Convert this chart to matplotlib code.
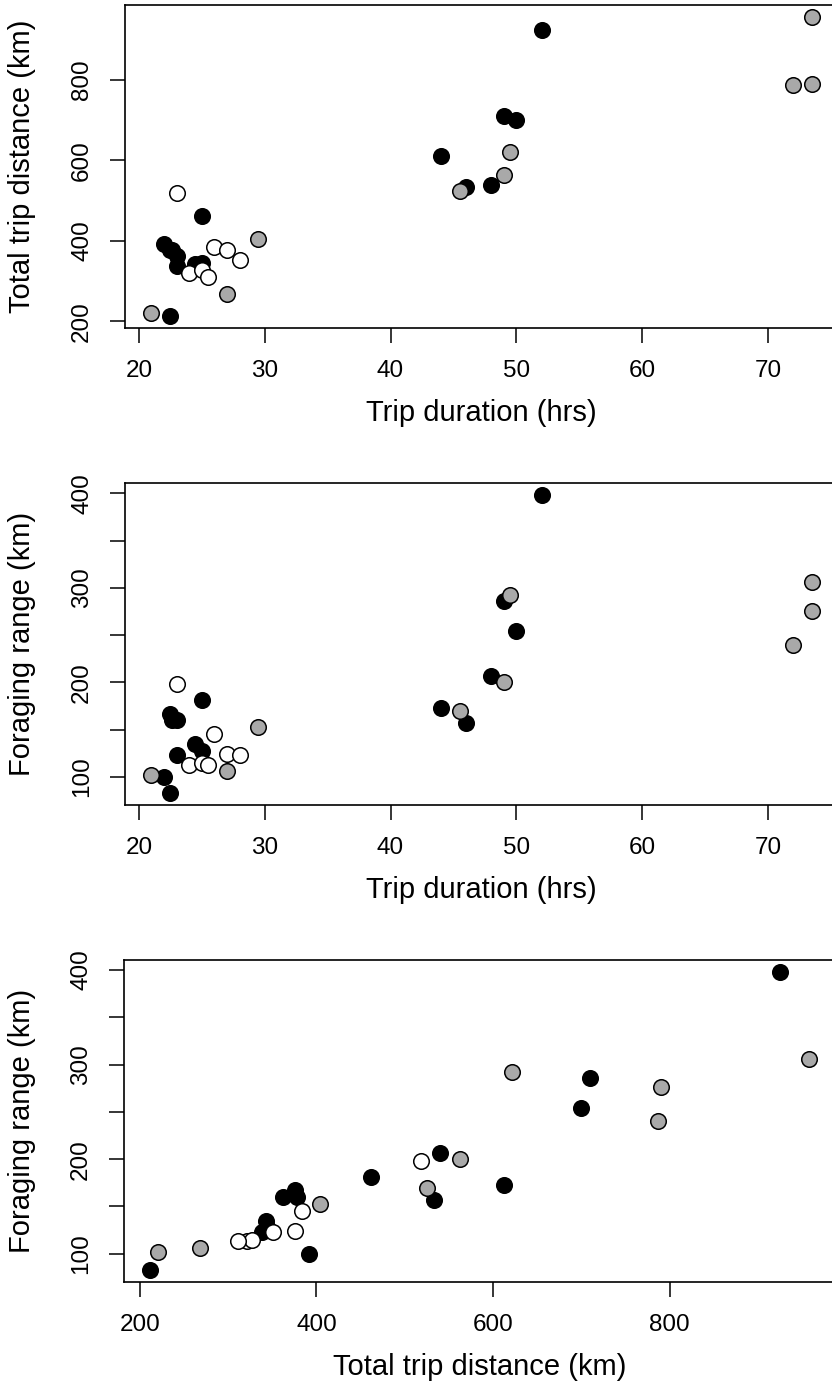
"""
Trip duration / distance / foraging range scatter panels
"""

import matplotlib
matplotlib.use('Agg')
import matplotlib.pyplot as plt
import numpy as np

plt.rcParams['font.family'] = ['Liberation Sans', 'DejaVu Sans']

# trips grouped by marker colour: duration (hrs), total distance (km), foraging range (km)
black_duration = [52, 49, 50, 44, 46, 48, 25, 22.5, 22, 22.5, 23, 22.6, 23, 24.5, 25]
black_distance = [925, 710, 700, 612, 533, 540, 462, 212, 392, 376, 362, 378, 338, 343, 344]
black_range = [398, 286, 254, 173, 157, 207, 181, 83, 100, 167, 160, 160, 123, 135, 128]

white_duration = [23, 26, 27, 28, 24, 25, 25.5]
white_distance = [519, 384, 376, 351, 321, 327, 311]
white_range = [198, 145, 124, 123, 113, 115, 113]

grey_duration = [73.5, 73.5, 72, 49.5, 49, 45.5, 29.5, 27, 21]
grey_distance = [958, 790, 787, 622, 563, 525, 404, 268, 221]
grey_range = [306, 276, 240, 292, 200, 170, 153, 106, 102]

groups = [
    (black_duration, black_distance, black_range, 'black'),
    (white_duration, white_distance, white_range, 'white'),
    (grey_duration, grey_distance, grey_range, '#a9a9a9'),
]

W, H = 832, 1384


def r_limits(values):
    lo, hi = min(values), max(values)
    pad = 0.04 * (hi - lo)
    return lo - pad, hi + pad


all_duration = black_duration + white_duration + grey_duration
all_distance = black_distance + white_distance + grey_distance
all_range = black_range + white_range + grey_range

fig = plt.figure(figsize=(W / 100, H / 100), dpi=100)

# axes boxes in pixels: left, top, right, bottom
boxes = [(125, 4.7, 838.5, 328.3), (125, 483.3, 838.5, 805), (124.1, 960, 835.4, 1281.7)]
panels = [
    (0, 1, 'Trip duration (hrs)', 'Total trip distance (km)', [20, 30, 40, 50, 60, 70], [200, 400, 600, 800], None),
    (0, 2, 'Trip duration (hrs)', 'Foraging range (km)', [20, 30, 40, 50, 60, 70], [100, 150, 200, 250, 300, 350, 400], [100, 200, 300, 400]),
    (1, 2, 'Total trip distance (km)', 'Foraging range (km)', [200, 400, 600, 800], [100, 150, 200, 250, 300, 350, 400], [100, 200, 300, 400]),
]
columns = [all_duration, all_distance, all_range]

for (l, t, r, b), (xi, yi, xlab, ylab, xt, yt, ylabels) in zip(boxes, panels):
    ax = fig.add_axes([l / W, 1 - b / H, (r - l) / W, (b - t) / H])
    for g in groups:
        ax.scatter(g[xi], g[yi], s=125, c=g[3], edgecolors='black', linewidths=1.1, zorder=3, clip_on=False)
    ax.set_xlim(*r_limits(columns[xi]))
    ax.set_ylim(*r_limits(columns[yi]))
    ax.set_xticks(xt)
    ax.set_yticks(yt)
    if ylabels is not None:
        ax.set_yticklabels([str(v) if v in ylabels else '' for v in yt])
    ax.tick_params(direction='out', length=11, width=1.1, labelsize=17.5, pad=12)
    for lab in ax.get_yticklabels():
        lab.set_rotation(90)
        lab.set_va('center')
    for sp in ax.spines.values():
        sp.set_linewidth(1.2)
    ax.set_xlabel(xlab, fontsize=21, va='center')
    ax.set_ylabel(ylab, fontsize=21, va='center')
    ax.xaxis.set_label_coords(0.5, -85 / (b - t))
    ax.yaxis.set_label_coords(-(l - 22) / (r - l), 0.5)

fig.savefig('out.png', dpi=100)
